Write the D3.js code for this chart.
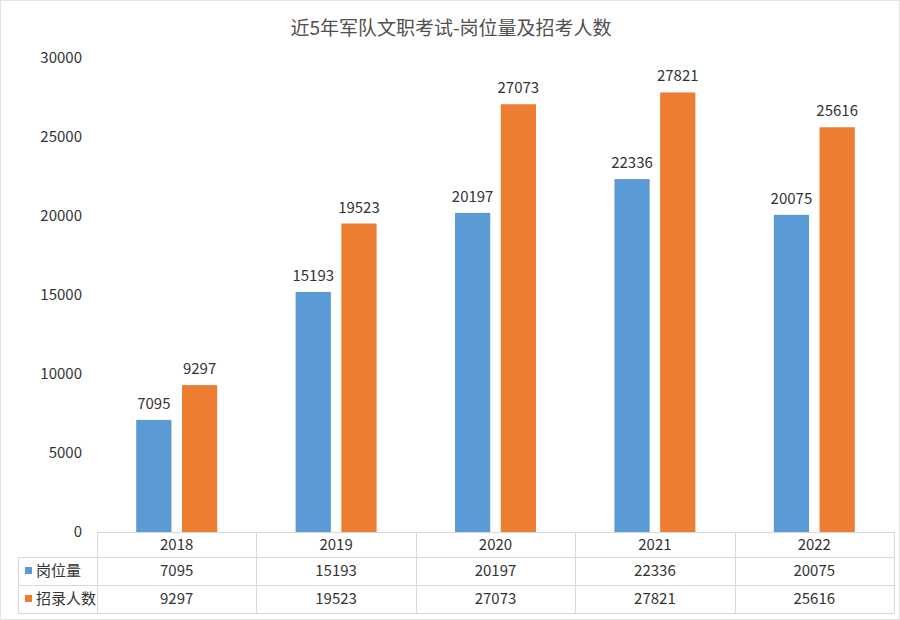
<!DOCTYPE html>
<html>
<head>
<meta charset="utf-8">
<script src="https://cdn.jsdelivr.net/npm/d3@7"></script>
<style>
  html, body { margin: 0; padding: 0; background: #fff; }
  svg { display: block; font-family: "Noto Sans CJK SC", "Noto Sans", sans-serif; }
</style>
</head>
<body>
<svg id="chart" width="900" height="620"></svg>
<script>
const title = "近5年军队文职考试-岗位量及招考人数";
const categories = ["2018", "2019", "2020", "2021", "2022"];
const seriesNames = ["岗位量", "招录人数"];
const postCounts = [7095, 15193, 20197, 22336, 20075];
const recruitCounts = [9297, 19523, 27073, 27821, 25616];
const yTicks = [0, 5000, 10000, 15000, 20000, 25000, 30000];
const colors = ["#5B9BD5", "#ED7D31"];

const seriesValues = [postCounts, recruitCounts];
const textColor = "#333333";
const lineColor = "#d9d9d9";

const svg = d3.select("#chart");
const W = 900, H = 620;

// outer border
svg.append("rect").attr("x", 0.5).attr("y", 0.5).attr("width", W - 1).attr("height", H - 1)
  .attr("fill", "#fff").attr("stroke", "#e3e3e3");

const plot = { left: 97, right: 894, top: 58, bottom: 532 };

const x0 = d3.scaleBand().domain(categories).range([plot.left, plot.right]).padding(0);
const groupFrac = 0.508;
const x1 = d3.scaleBand().domain(seriesNames)
  .range([0, x0.bandwidth() * groupFrac]).paddingInner(0.23).paddingOuter(0);
const y = d3.scaleLinear().domain([0, 30000]).range([plot.bottom, plot.top]);

// title
svg.append("text").attr("x", 451).attr("y", 35).attr("text-anchor", "middle")
  .attr("font-size", 19).attr("fill", "#505050").text(title);

// y axis
const yAxis = d3.axisLeft(y).tickValues(yTicks).tickSize(0).tickPadding(15).tickFormat(d3.format("d"));
const yg = svg.append("g").attr("transform", `translate(${plot.left},0)`).call(yAxis);
yg.select(".domain").remove();
yg.selectAll("text").attr("font-size", 15).attr("fill", textColor)
  .attr("font-family", "\"Noto Sans CJK SC\", \"Noto Sans\", sans-serif");

// bars
const groupOffset = (x0.bandwidth() - x0.bandwidth() * groupFrac) / 2;
const groups = svg.append("g").selectAll("g").data(categories).join("g")
  .attr("transform", d => `translate(${x0(d) + groupOffset},0)`);

groups.selectAll("rect").data((c, i) => seriesNames.map((s, j) => ({ s, j, v: seriesValues[j][i] })))
  .join("rect")
  .attr("x", d => x1(d.s))
  .attr("width", x1.bandwidth())
  .attr("y", d => y(d.v))
  .attr("height", d => y(0) - y(d.v))
  .attr("fill", d => colors[d.j]);

groups.selectAll("text.lbl").data((c, i) => seriesNames.map((s, j) => ({ s, j, v: seriesValues[j][i] })))
  .join("text").attr("class", "lbl")
  .attr("x", d => x1(d.s) + x1.bandwidth() / 2)
  .attr("y", d => y(d.v) - 11)
  .attr("text-anchor", "middle")
  .attr("font-size", 15).attr("fill", textColor)
  .text(d => d.v);

// data table
const rowY = [plot.bottom, 557, 585, 613];
const tableLeft = 18;
const tg = svg.append("g");
tg.append("line").attr("x1", plot.left).attr("x2", plot.right).attr("y1", rowY[0] + 0.5).attr("y2", rowY[0] + 0.5)
  .attr("stroke", lineColor);
[1, 2, 3].forEach(k => {
  tg.append("line").attr("x1", tableLeft).attr("x2", plot.right)
    .attr("y1", rowY[k] + 0.5).attr("y2", rowY[k] + 0.5).attr("stroke", lineColor);
});
tg.append("line").attr("x1", tableLeft + 0.5).attr("x2", tableLeft + 0.5)
  .attr("y1", rowY[1]).attr("y2", rowY[3]).attr("stroke", lineColor);
categories.forEach(c => {
  const xx = Math.round(x0(c)) + 0.5;
  tg.append("line").attr("x1", xx).attr("x2", xx).attr("y1", rowY[0]).attr("y2", rowY[3]).attr("stroke", lineColor);
});
tg.append("line").attr("x1", plot.right + 0.5).attr("x2", plot.right + 0.5)
  .attr("y1", rowY[0]).attr("y2", rowY[3]).attr("stroke", lineColor);

tg.selectAll("text.cat").data(categories).join("text").attr("class", "cat")
  .attr("x", d => x0(d) + x0.bandwidth() / 2)
  .attr("y", (rowY[0] + rowY[1]) / 2)
  .attr("dy", "0.35em").attr("text-anchor", "middle")
  .attr("font-size", 15).attr("fill", textColor).text(d => d);

seriesNames.forEach((s, j) => {
  const cy = (rowY[j + 1] + rowY[j + 2]) / 2;
  tg.append("rect").attr("x", 25).attr("y", cy - 4).attr("width", 7).attr("height", 7).attr("fill", colors[j]);
  tg.append("text").attr("x", 36).attr("y", cy).attr("dy", "0.35em")
    .attr("font-size", 15).attr("fill", textColor).text(s);
  tg.selectAll(null).data(categories).join("text")
    .attr("x", d => x0(d) + x0.bandwidth() / 2)
    .attr("y", cy).attr("dy", "0.35em").attr("text-anchor", "middle")
    .attr("font-size", 15).attr("fill", textColor)
    .text((d, i) => seriesValues[j][i]);
});
</script>
</body>
</html>
